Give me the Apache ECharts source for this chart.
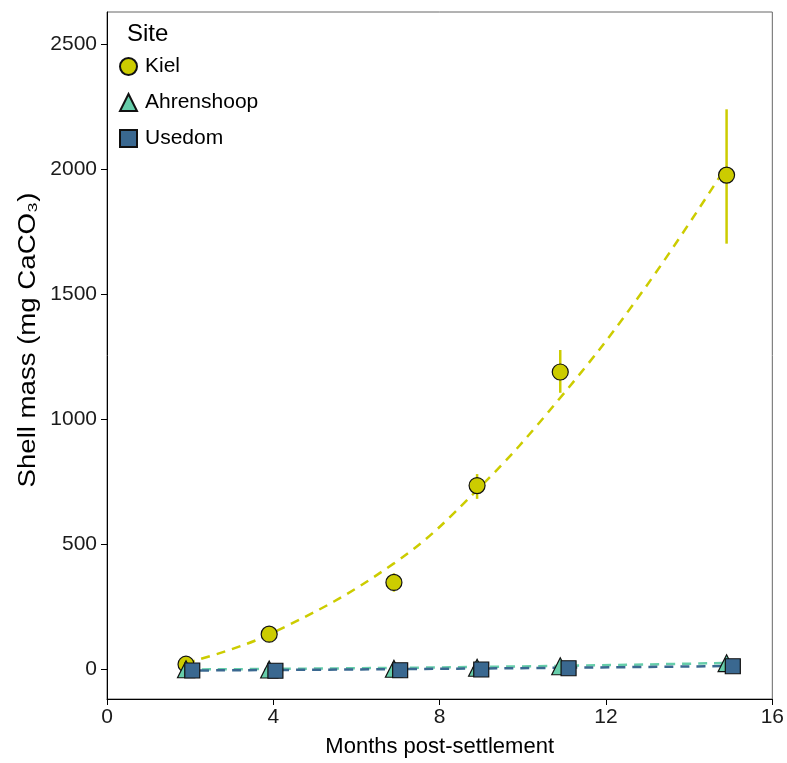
<!DOCTYPE html>
<html>
<head>
<meta charset="utf-8">
<script src="https://cdn.jsdelivr.net/npm/echarts@6/dist/echarts.min.js"></script>
<style>
  html, body { margin: 0; padding: 0; background: #fff; }
  #chart { width: 787px; height: 763px; }
</style>
</head>
<body>
<div id="chart"></div>
<script>
// data
var siteNames = ['Kiel', 'Ahrenshoop', 'Usedom'];
var siteColors = ['#cccc00', '#66cdaa', '#3a6890'];

var kielMonths = [1.9, 3.9, 6.9, 8.9, 10.9, 14.9];
var kielMass = [20, 140, 347, 734, 1188, 1975];
var kielLow = [12, 128, 310, 681, 1105, 1701];
var kielHigh = [28, 152, 383, 780, 1276, 2238];

var ahrenMonths = [1.9, 3.9, 6.9, 8.9, 10.9, 14.9];
var ahrenMass = [0, -1, 2, 6, 12, 24];

var usedomMonths = [2.05, 4.05, 7.05, 9.0, 11.1, 15.05];
var usedomMass = [-5, -6, -4, -1, 4, 12];

// fitted curves (read at a few months)
var kielFitMonths = [1.9, 3.9, 6.9, 8.9, 10.9, 12.9, 14.9];
var kielFitMass = [25, 139, 423, 716, 1085, 1515, 2011];
var ahrenFitMonths = [1.9, 8.9, 14.9];
var ahrenFitMass = [-1, 9, 25];
var usedomFitMonths = [2.05, 9.0, 15.05];
var usedomFitMass = [-5, 3, 13];

var xTicks = [0, 4, 8, 12, 16];
var yTicks = [0, 500, 1000, 1500, 2000, 2500];

function zip(xs, ys) {
    return xs.map(function(x, i) { return [x, ys[i]]; });
}

var myChart = echarts.init(document.getElementById('chart'));

var font = 'Liberation Sans, Arial, sans-serif';
var dash = [9, 7];

var option = {
    backgroundColor: '#fff',
    animation: false,
    textStyle: { fontFamily: font },
    title: {
        text: 'Site',
        left: 122,
        top: 17,
        textStyle: { fontSize: 24, fontWeight: 'normal', color: '#000', fontFamily: font }
    },
    legend: {
        data: siteNames,
        orient: 'vertical',
        left: 114,
        top: 51,
        itemWidth: 17,
        itemHeight: 17,
        itemGap: 15,
        textStyle: { fontSize: 21, color: '#000', fontFamily: font, padding: [0, 0, 0, 3] }
    },
    // y axis title drawn as text so it can be stretched like the original
    graphic: [{
        type: 'text',
        x: 29,
        y: 340,
        rotation: Math.PI / 2,
        scaleX: 1.2,
        style: {
            text: 'Shell mass (mg CaCO₃)',
            font: '23px ' + font,
            fill: '#000',
            align: 'center',
            verticalAlign: 'middle'
        }
    }],
    grid: {
        left: 107,
        right: 14,
        top: 12,
        bottom: 60,
        show: true,
        borderColor: '#666',
        borderWidth: 1
    },
    xAxis: {
        type: 'value',
        min: 0,
        max: 16,
        interval: 4,
        name: 'Months post-settlement',
        nameLocation: 'middle',
        nameGap: 37,
        nameTextStyle: { fontSize: 22, color: '#000', fontFamily: font },
        axisLine: { onZero: false, lineStyle: { color: '#000', width: 1 } },
        axisTick: { length: 6, lineStyle: { color: '#000' } },
        axisLabel: { fontSize: 21, color: '#1a1a1a', margin: 8, fontFamily: font },
        splitLine: { show: false }
    },
    yAxis: {
        type: 'value',
        min: -119,
        max: 2627,
        axisLine: { show: true, onZero: false, lineStyle: { color: '#000', width: 1 } },
        axisTick: { show: true, length: 6, customValues: yTicks, lineStyle: { color: '#000' } },
        axisLabel: {
            fontSize: 21, color: '#1a1a1a', margin: 10, customValues: yTicks, fontFamily: font,
            formatter: function(v) { return String(v); }
        },
        splitLine: { show: false }
    },
    series: [
        {
            name: 'Kiel fit',
            type: 'line',
            data: zip(kielFitMonths, kielFitMass),
            smooth: 0.4,
            showSymbol: false,
            symbol: 'none',
            lineStyle: { color: siteColors[0], width: 2.5, type: dash },
            z: 1
        },
        {
            name: 'Ahrenshoop fit',
            type: 'line',
            data: zip(ahrenFitMonths, ahrenFitMass),
            smooth: true,
            symbol: 'none',
            lineStyle: { color: siteColors[1], width: 2.5, type: dash },
            z: 1
        },
        {
            name: 'Usedom fit',
            type: 'line',
            data: zip(usedomFitMonths, usedomFitMass),
            smooth: true,
            symbol: 'none',
            lineStyle: { color: siteColors[2], width: 2.5, type: dash, dashOffset: 8 },
            z: 1
        },
        {
            name: 'Kiel error',
            type: 'custom',
            data: kielMonths.map(function(m, i) { return [m, kielLow[i], kielHigh[i]]; }),
            renderItem: function(params, api) {
                var lo = api.coord([api.value(0), api.value(1)]);
                var hi = api.coord([api.value(0), api.value(2)]);
                return {
                    type: 'line',
                    shape: { x1: lo[0], y1: lo[1], x2: hi[0], y2: hi[1] },
                    style: { stroke: siteColors[0], lineWidth: 2.5 }
                };
            },
            z: 2
        },
        {
            name: 'Kiel',
            type: 'scatter',
            data: zip(kielMonths, kielMass),
            symbol: 'circle',
            symbolSize: 16,
            itemStyle: { color: siteColors[0], borderColor: '#111', borderWidth: 1.2, opacity: 1 },
            z: 3
        },
        {
            name: 'Ahrenshoop',
            type: 'scatter',
            data: zip(ahrenMonths, ahrenMass),
            symbol: 'triangle',
            symbolSize: 17,
            itemStyle: { color: siteColors[1], borderColor: '#111', borderWidth: 1.2, opacity: 1 },
            z: 4
        },
        {
            name: 'Usedom',
            type: 'scatter',
            data: zip(usedomMonths, usedomMass),
            symbol: 'rect',
            symbolSize: 15,
            itemStyle: { color: siteColors[2], borderColor: '#111', borderWidth: 1.2, opacity: 1 },
            z: 5
        }
    ]
};

myChart.setOption(option);
</script>
</body>
</html>
